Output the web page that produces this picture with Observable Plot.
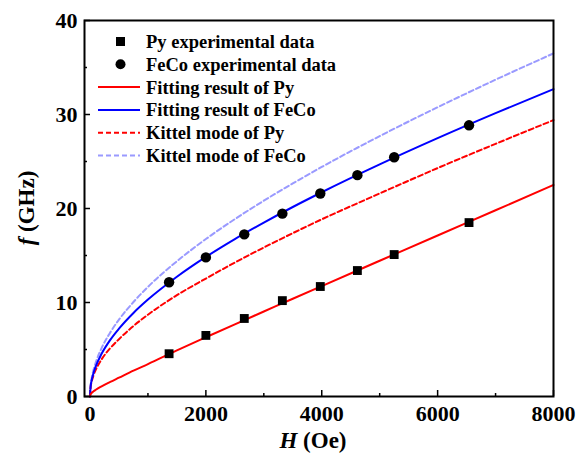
<!DOCTYPE html>
<html><head><meta charset="utf-8">
<script src="https://cdn.jsdelivr.net/npm/d3@7"></script>
<script src="https://cdn.jsdelivr.net/npm/@observablehq/plot@0.6"></script>
<style>
body{margin:0;background:#fff;}
#wrap{position:relative;width:583px;height:457px;}
svg text{font-weight:bold;}
</style></head><body><div id="wrap"></div>
<script>
// experimental data
const expH = [1365, 2000, 2663, 3320, 3975, 4615, 5250, 6542];
const pyExp = [4.55, 6.5, 8.3, 10.2, 11.7, 13.4, 15.1, 18.5];
const fecoExp = [12.15, 14.8, 17.25, 19.45, 21.6, 23.55, 25.45, 28.85];
// curves
const curveH = [0, 10, 30, 60, 100, 200, 350, 500, 750, 1000, 1500, 2000, 2500, 3000, 3500, 4000, 5000, 6000, 7000, 8000];
const pyFit = [0, 0.22, 0.38, 0.55, 0.72, 1.08, 1.55, 2.0, 2.75, 3.45, 4.9, 6.3, 7.68, 9.04, 10.4, 11.75, 14.44, 17.13, 19.81, 22.5];
const fecoFit = [0, 1.01, 1.75, 2.48, 3.21, 4.54, 6.03, 7.22, 8.89, 10.31, 12.74, 14.85, 16.75, 18.5, 20.16, 21.73, 24.69, 27.48, 30.14, 32.7];
const pyKittel = [0, 0.95, 1.6, 2.25, 2.85, 3.95, 5.15, 6.1, 7.5, 8.7, 10.78, 12.55, 14.25, 15.85, 17.38, 18.85, 21.6, 24.3, 26.88, 29.4];
const fecoKittel = [0, 1.15, 1.99, 2.81, 3.63, 5.15, 6.82, 8.18, 10.05, 11.66, 14.39, 16.75, 18.87, 20.83, 22.67, 24.42, 27.7, 30.77, 33.7, 36.5];
// axes
const xTicks = [0, 2000, 4000, 6000, 8000];
const xMinor = [1000, 3000, 5000, 7000];
const yTicks = [0, 10, 20, 30, 40];
const yMinor = [5, 15, 25, 35];
// legend
const legendLabels = ["Py experimental data", "FeCo experimental data", "Fitting result of Py", "Fitting result of FeCo", "Kittel mode of Py", "Kittel mode of FeCo"];
const legendKinds = ["square", "circle", "line", "line", "dash", "dash"];
const legendColors = ["#000", "#000", "#ff0000", "#0000ff", "#ff0000", "#9a9aff"];

const curve = (ys) => curveH.map((h, i) => ({h, f: ys[i]}));
const pts = (ys) => expH.map((h, i) => ({h, f: ys[i]}));
const font = "'Liberation Serif', 'Times New Roman', serif";

const plot = Plot.plot({
  width: 583, height: 457,
  marginLeft: 84, marginRight: 30, marginTop: 20, marginBottom: 61,
  style: {fontFamily: font, background: "#fff", color: "#000"},
  x: {domain: [-95, 8000]},
  y: {domain: [0, 40]},
  marks: [
    Plot.axisX({ticks: xTicks, tickSize: 0, tickPadding: 9, tickFormat: d3.format("d"), fontSize: 22, fontWeight: "bold", label: null}),
    Plot.axisX({ticks: xTicks, tickSize: 6, dy: -6, text: null, label: null, strokeWidth: 1.5}),
    Plot.axisX({ticks: xMinor, tickSize: 3, dy: -3, text: null, label: null, strokeWidth: 1.5}),
    Plot.axisY({ticks: yTicks, tickSize: 0, tickPadding: 7, fontSize: 22, fontWeight: "bold", label: null}),
    Plot.axisY({ticks: yTicks, tickSize: 6, dx: 6, text: null, label: null, strokeWidth: 1.5}),
    Plot.axisY({ticks: yMinor, tickSize: 3, dx: 3, text: null, label: null, strokeWidth: 1.5}),
    Plot.line(curve(fecoKittel), {x: "h", y: "f", stroke: "#9a9aff", strokeWidth: 2, strokeDasharray: "5,3", curve: "monotone-x"}),
    Plot.line(curve(pyKittel), {x: "h", y: "f", stroke: "#ff0000", strokeWidth: 2, strokeDasharray: "5,3", curve: "monotone-x"}),
    Plot.line(curve(fecoFit), {x: "h", y: "f", stroke: "#0000ff", strokeWidth: 2, curve: "monotone-x"}),
    Plot.line(curve(pyFit), {x: "h", y: "f", stroke: "#ff0000", strokeWidth: 2, curve: "monotone-x"}),
    Plot.dot(pts(pyExp), {x: "h", y: "f", symbol: "square", r: 5, fill: "#000"}),
    Plot.dot(pts(fecoExp), {x: "h", y: "f", symbol: "circle", r: 5.2, fill: "#000"}),
    Plot.frame({stroke: "#000", strokeWidth: 2})
  ]
});
document.getElementById("wrap").appendChild(plot);

const svg = d3.select(plot);
// axis titles with mixed italic
const xl = svg.append("text").attr("x", 313).attr("y", 448).attr("text-anchor", "middle")
  .attr("font-family", font).attr("font-size", 23).attr("font-weight", "bold").attr("fill", "#000");
xl.append("tspan").attr("font-style", "italic").text("H");
xl.append("tspan").text(" (Oe)");
const yl = svg.append("text").attr("transform", "translate(34,208) rotate(-90)").attr("text-anchor", "middle")
  .attr("font-family", font).attr("font-size", 23).attr("font-weight", "bold").attr("fill", "#000");
yl.append("tspan").attr("font-style", "italic").text("f");
yl.append("tspan").text(" (GHz)");

// legend
const lg = svg.append("g").attr("text-anchor", "start");
legendLabels.forEach((lab, i) => {
  const y = 41.5 + i * 22.8;
  const kind = legendKinds[i], c = legendColors[i];
  if (kind === "square") lg.append("rect").attr("x", 116).attr("y", y - 4.5).attr("width", 9).attr("height", 9).attr("fill", c);
  else if (kind === "circle") lg.append("circle").attr("cx", 120.5).attr("cy", y).attr("r", 5).attr("fill", c);
  else lg.append("line").attr("x1", 98).attr("x2", 140).attr("y1", y).attr("y2", y).attr("stroke", c).attr("stroke-width", 2)
    .attr("stroke-dasharray", kind === "dash" ? "5,3" : null);
  lg.append("text").attr("x", 146).attr("y", y).attr("dy", "0.35em").attr("text-anchor", "start").text(lab)
    .attr("font-family", font).attr("font-size", 18.5).attr("font-weight", "bold").attr("fill", "#000");
});
</script></body></html>
